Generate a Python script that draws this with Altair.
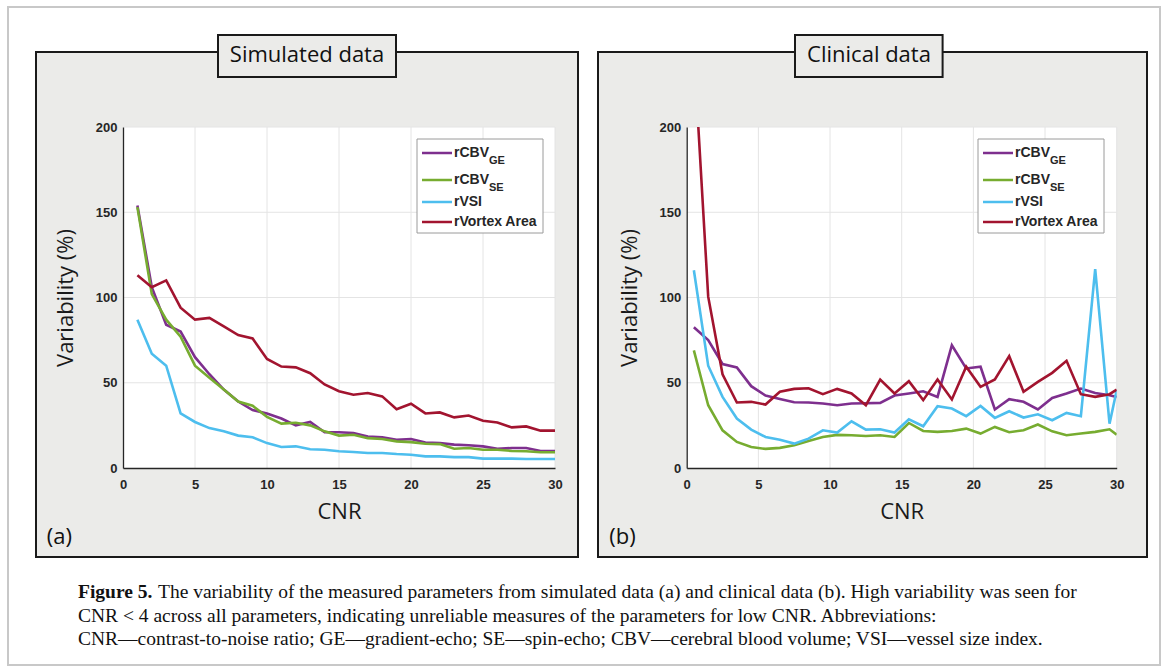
import altair as alt
import pandas as pd

# ---------------- data ----------------
series_names = ["rCBV_GE", "rCBV_SE", "rVSI", "rVortex Area"]
series_colors = ["#7E2F8E", "#77AC30", "#4DBEEE", "#A2142F"]
legend_main = ["rCBV", "rCBV", "rVSI", "rVortex Area"]
legend_sub = ["GE", "SE", "", ""]

x_ticks = [0, 5, 10, 15, 20, 25, 30]
y_ticks = [0, 50, 100, 150, 200]

sim_cnr = [1, 2, 3, 4, 5, 6, 7, 8, 9, 10, 11, 12, 13, 14, 15,
           16, 17, 18, 19, 20, 21, 22, 23, 24, 25, 26, 27, 28, 29, 30]
sim_cbv_ge = [154, 106, 84, 80, 65, 55, 46, 39, 34, 32, 29, 25, 27, 21, 21,
              20.5, 18.5, 18, 16.5, 17, 15, 14.6, 13.7, 13.3, 12.7, 11.3, 11.7, 11.7, 10, 10]
sim_cbv_se = [153, 102, 87, 77, 60, 53, 46, 39, 36.5, 30, 26, 26.5, 25, 21.5, 19,
              19.5, 17.5, 17, 15.6, 15.2, 14.2, 14, 11.3, 11.7, 10.7, 10.7, 10, 9.8, 9.2, 9.2]
sim_vsi = [87, 67, 60, 32, 27, 23.4, 21.5, 19, 18, 14.6, 12.3, 12.7, 11, 10.7, 9.8,
           9.4, 8.8, 8.8, 8.2, 7.8, 6.8, 6.8, 6.4, 6.4, 5.5, 5.5, 5.5, 5.3, 5.3, 5.3]
sim_vortex = [113, 106, 110, 94, 87, 88, 83, 78, 76, 64, 59.5, 59, 55.6, 49, 45,
              43, 44, 42, 34.5, 37.7, 32, 32.6, 29.7, 30.8, 27.7, 26.7, 23.8, 24.4, 21.9, 21.9]

clin_cnr = [0.5, 1.5, 2.5, 3.5, 4.5, 5.5, 6.5, 7.5, 8.5, 9.5, 10.5, 11.5, 12.5, 13.5, 14.5, 15.5,
            16.5, 17.5, 18.5, 19.5, 20.5, 21.5, 22.5, 23.5, 24.5, 25.5, 26.5, 27.5, 28.5, 29.5, 30]
clin_cbv_ge = [82.5, 75, 61, 59, 48, 42.5, 40.5, 38.6, 38.4, 37.8, 36.8, 37.8, 38, 38.2, 42.5, 43.7,
               45, 41.7, 72, 58.4, 59.4, 34.3, 40.4, 38.8, 34.3, 41.1, 43.7, 46.6, 44, 42.7, 41.7]
clin_cbv_se = [69, 36.8, 22.1, 15.3, 12.3, 11.2, 11.8, 13.3, 15.9, 18.2, 19.4, 19.2, 18.8, 19.2, 18.2, 26.4,
               21.7, 21.2, 21.7, 23.1, 20.2, 24.1, 21, 22.1, 25.5, 21.5, 19.2, 20.2, 21.2, 22.7, 19.6]
clin_vsi = [116, 60, 41.7, 29, 22.5, 18.2, 16.6, 14.3, 17.2, 22.1, 20.8, 27.4, 22.5, 22.7, 20.8, 28.6,
            24.5, 36.2, 34.9, 30.4, 36.4, 29.4, 33.3, 29.6, 31.5, 28, 32.3, 30.4, 116.7, 26, 45.6]
clin_vortex = [245, 100.5, 55, 38.4, 38.8, 37.2, 44.7, 46.4, 46.8, 43.3, 46.4, 43.7, 36.8, 51.9, 43.7, 50.9,
               39.8, 51.9, 40.2, 59.4, 47.6, 51.9, 65.6, 44.7, 50.5, 55.8, 62.9, 43.3, 41.7, 43.3, 46]

caption_bold = "Figure 5."
caption_lines = [
    "The variability of the measured parameters from simulated data (a) and clinical data (b). High variability was seen for",
    "CNR < 4 across all parameters, indicating unreliable measures of the parameters for low CNR. Abbreviations:",
    "CNR\u2014contrast-to-noise ratio; GE\u2014gradient-echo; SE\u2014spin-echo; CBV\u2014cerebral blood volume; VSI\u2014vessel size index.",
]


def long_form(cnr, cols):
    rows = []
    for name, vals in zip(series_names, cols):
        for c, v in zip(cnr, vals):
            rows.append({"cnr": c, "val": v, "series": name})
    return pd.DataFrame(rows)


sim_df = long_form(sim_cnr, [sim_cbv_ge, sim_cbv_se, sim_vsi, sim_vortex])
clin_df = long_form(clin_cnr, [clin_cbv_ge, clin_cbv_se, clin_vsi, clin_vortex])

ONE = pd.DataFrame({"k": [0]})
PANEL_BG = "#ebebe9"
SANS = "Liberation Sans"
HUMAN = "Open Sans"
SERIF = "Liberation Serif"
INK = "#262626"
CAP = 19.5


def rect(x, y, x2, y2, fill, stroke=None, sw=0):
    kw = dict(fill=fill)
    if stroke is not None:
        kw.update(stroke=stroke, strokeWidth=sw)
    return alt.Chart(ONE).mark_rect(**kw).encode(
        x=alt.value(x), x2=alt.value(x2), y=alt.value(y), y2=alt.value(y2))


def rect_outline(x, y, x2, y2, stroke, sw):
    return alt.Chart(ONE).mark_rect(fillOpacity=0, stroke=stroke, strokeWidth=sw).encode(
        x=alt.value(x), x2=alt.value(x2), y=alt.value(y), y2=alt.value(y2))


def text(x, y, s, size, font, weight="normal", align="left", baseline="middle", color="#111111"):
    return alt.Chart(ONE).mark_text(text=s, fontSize=size, font=font, fontWeight=weight,
                                    align=align, baseline=baseline, color=color).encode(
        x=alt.value(x), y=alt.value(y))


def hrule(x, x2, y, color, sw):
    return alt.Chart(ONE).mark_rule(color=color, strokeWidth=sw).encode(
        x=alt.value(x), x2=alt.value(x2), y=alt.value(y))


def make_axes():
    xaxis = alt.Axis(values=x_ticks, title="CNR", grid=False, ticks=False,
                     domainColor=INK, domainWidth=1.3,
                     labelFont=SANS, labelFontWeight="bold", labelFontSize=13, labelColor=INK,
                     labelPadding=10, labelFlush=False,
                     titleFont=HUMAN, titleFontSize=22, titleFontWeight="normal", titleColor="#1a1a1a",
                     titlePadding=10, zindex=1)
    yaxis = alt.Axis(values=y_ticks, title="Variability (%)", grid=False, ticks=False,
                     domainColor=INK, domainWidth=1.3,
                     labelFont=SANS, labelFontWeight="bold", labelFontSize=13, labelColor=INK,
                     labelPadding=6,
                     titleFont=HUMAN, titleFontSize=22, titleFontWeight="normal", titleColor="#1a1a1a",
                     titlePadding=18, zindex=1)
    return xaxis, yaxis


def panel(df, width, height, box, tbox, title, title_cx, label, label_x, leg_x, extra_back):
    xs = alt.Scale(domain=[0, 30], nice=False, zero=False)
    ys = alt.Scale(domain=[0, 200], nice=False)
    xaxis, yaxis = make_axes()

    layers = list(extra_back)
    layers.append(rect(*box, fill=PANEL_BG, stroke="#1a1a1a", sw=2))
    layers.append(rect(*tbox, fill=PANEL_BG, stroke="#1a1a1a", sw=2))
    layers.append(text(title_cx, (tbox[1] + tbox[3]) / 2 - 1, title, 22, HUMAN, align="center"))
    layers.append(text(label_x, 410, label, 22, HUMAN))
    layers.append(rect(0, 0, width, height, fill="white"))

    grid_x = alt.Chart(pd.DataFrame({"g": x_ticks[1:]})).mark_rule(
        color="#e4e4e4", strokeWidth=1).encode(x=alt.X("g:Q", scale=xs, axis=xaxis))
    grid_y = alt.Chart(pd.DataFrame({"g": y_ticks[1:]})).mark_rule(
        color="#e4e4e4", strokeWidth=1).encode(y=alt.Y("g:Q", scale=ys, axis=yaxis))
    lines = alt.Chart(df).mark_line(strokeWidth=2.6, clip=True).encode(
        x=alt.X("cnr:Q", scale=xs, axis=xaxis),
        y=alt.Y("val:Q", scale=ys, axis=yaxis),
        color=alt.Color("series:N", scale=alt.Scale(domain=series_names, range=series_colors),
                        legend=None),
        order=alt.Order("cnr:Q"),
    )
    layers += [grid_x, grid_y, lines]

    # legend box
    layers.append(rect(leg_x, 12, leg_x + 126, 106, fill="white", stroke="#9a9a9a", sw=1))
    rows_y = [26, 53, 75, 95]
    for i in range(4):
        yy = rows_y[i]
        layers.append(hrule(leg_x + 5, leg_x + 35, yy, series_colors[i], 2.5))
        layers.append(text(leg_x + 37, yy, legend_main[i], 14, SANS, weight="bold", color=INK))
        if legend_sub[i]:
            layers.append(text(leg_x + 72, yy + 8, legend_sub[i], 11, SANS, weight="bold", color=INK))

    return alt.layer(*layers).properties(width=width, height=height)


# left panel origin in page: (123, 127); right panel origin: (686.7, 127)
LX, LY = 123, 127
RX = 686.7

back_left = [
    rect(-LX, -LY, 1167 - LX, 672 - LY, fill="white"),
    rect_outline(8 - LX, 7 - LY, 1160 - LX, 665 - LY, "#c8c8c8", 2),
    text(78 - LX, 598 - LY, caption_bold, CAP, SERIF, weight="bold", baseline="alphabetic"),
    text(158 - LX, 598 - LY, caption_lines[0], CAP, SERIF, baseline="alphabetic"),
    text(78 - LX, 621.5 - LY, caption_lines[1], CAP, SERIF, baseline="alphabetic"),
    text(78 - LX, 645 - LY, caption_lines[2], CAP, SERIF, baseline="alphabetic"),
]

left = panel(sim_df, 432, 341,
             box=(36 - LX, 52 - LY, 578 - LX, 557 - LY),
             tbox=(218 - LX, 35 - LY, 396 - LX, 77 - LY),
             title="Simulated data", title_cx=307 - LX,
             label="(a)", label_x=46.7 - LX, leg_x=294, extra_back=back_left)

right = panel(clin_df, 430, 341,
              box=(598 - RX, 52 - LY, 1147 - RX, 557 - LY),
              tbox=(795 - RX, 35 - LY, 942.6 - RX, 77 - LY),
              title="Clinical data", title_cx=869 - RX,
              label="(b)", label_x=609.3 - RX, leg_x=291.3, extra_back=[])

chart = alt.hconcat(left, right, spacing=RX - LX - 432, bounds="flush").properties(
    padding=0).configure_view(strokeWidth=0)

chart.save("out.html", embed_options={"renderer": "svg", "actions": False})
